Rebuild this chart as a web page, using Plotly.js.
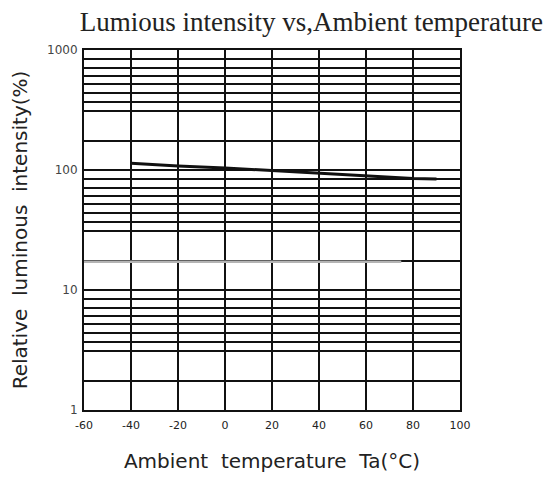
<!DOCTYPE html>
<html>
<head>
<meta charset="utf-8">
<script src="https://cdn.plot.ly/plotly-3.0.1.min.js"></script>
<style>html,body{margin:0;padding:0;background:#fff;}#chart{width:557px;height:478px;}</style>
</head>
<body>
<div id="chart"></div>
<script>
// Data
const tempX = [-40, -20, 0, 20, 40, 60, 80, 90];
const intensityY = [114, 108, 104, 99, 94, 89, 85, 84];
const grayX = [-60, 75];
const grayY = [17.2, 17.2];
const xTicks = [-60, -40, -20, 0, 20, 40, 60, 80, 100];
const decades = [1, 10, 100];
const gridFactors = [1.75, 3.12, 3.71, 4.36, 5.18, 6.07, 7.12, 8.37];

const yTickVals = [];
const yTickText = [];
decades.forEach(d => {
  yTickVals.push(d); yTickText.push(String(d));
  gridFactors.forEach(f => { yTickVals.push(d * f); yTickText.push(''); });
});
yTickVals.push(1000); yTickText.push('1000');

const traces = [
  {x: grayX, y: grayY, mode: 'lines', line: {color: '#b4b4b4', width: 2.5}, hoverinfo: 'skip'},
  {x: tempX, y: intensityY, mode: 'lines', line: {color: '#111', width: 3}, hoverinfo: 'skip'}
];

const layout = {
  width: 557, height: 478,
  margin: {l: 84, r: 97, t: 50, b: 68},
  paper_bgcolor: '#fff', plot_bgcolor: '#fff',
  showlegend: false,
  title: {
    text: 'Lumious intensity vs,Ambient temperature',
    font: {family: 'Liberation Serif', size: 27, color: '#222'},
    xref: 'container', yref: 'container',
    x: 0.143, xanchor: 'left', y: 0.955, yanchor: 'middle'
  },
  xaxis: {
    range: [-60, 100], tickvals: xTicks, ticktext: xTicks.map(String),
    showgrid: true, gridcolor: '#111', gridwidth: 2,
    zeroline: false, showline: true, linecolor: '#111', linewidth: 2, mirror: true,
    ticks: '', ticklabelstandoff: 4, tickfont: {family: 'DejaVu Sans', size: 11, color: '#222'},
    title: {text: 'Ambient  temperature  Ta(°C)', font: {family: 'DejaVu Sans', size: 20, color: '#222'}, standoff: 23}
  },
  yaxis: {
    type: 'log', range: [0, 3], tickvals: yTickVals, ticktext: yTickText,
    showgrid: true, gridcolor: '#111', gridwidth: 2,
    zeroline: false, showline: true, linecolor: '#111', linewidth: 2, mirror: true,
    ticks: '', ticklabelstandoff: 2, tickfont: {family: 'DejaVu Sans', size: 12, color: '#444'},
    title: {text: 'Relative  luminous  intensity(%)', font: {family: 'DejaVu Sans', size: 20, color: '#222'}, standoff: 14}
  }
};

Plotly.newPlot('chart', traces, layout, {displayModeBar: false, staticPlot: true});
</script>
</body>
</html>
